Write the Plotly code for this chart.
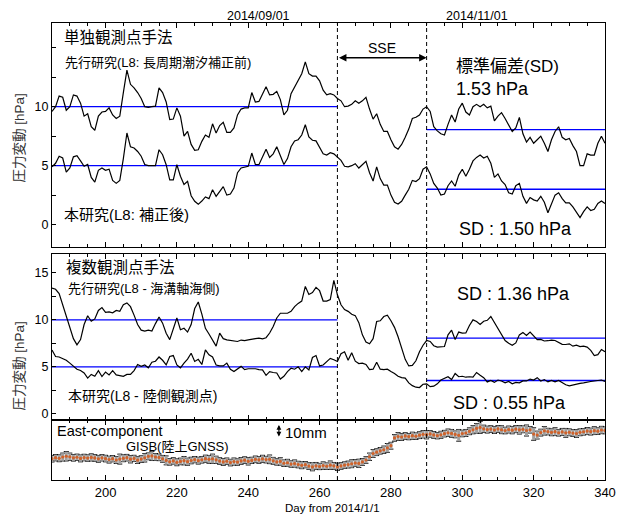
import plotly.graph_objects as go

# ---------------- data ----------------
days = list(range(185, 341))

top_prev = [9.6, 10.0, 10.9, 10.8, 9.7, 10.0, 11.0, 10.9, 10.3, 9.2,
            9.4, 8.3, 8.0, 9.2, 9.55, 9.6, 9.9, 9.3, 9.0, 9.2,
            11.2, 13.1, 11.9, 11.6, 11.2, 10.7, 10.0, 9.95, 10.0, 10.05,
            11.6, 11.2, 10.4, 8.9, 8.95, 9.9, 9.2, 7.5, 7.9, 6.8,
            6.3, 6.35, 7.06, 7.6, 7.4, 8.55, 7.76, 8.4, 8.67, 7.82,
            7.82, 8.2, 9.3, 9.8, 9.9, 9.9, 11.2, 10.4, 10.45, 11.1,
            11.7, 11.0, 11.05, 11.3, 10.6, 9.3, 9.7, 11.1, 11.7, 12.3,
            12.8, 13.8, 12.8, 12.6, 12.6, 12.2, 11.4, 11.0, 11.1, 11.0,
            10.7, 10.5, 10.0, 10.05, 10.2, 10.5, 10.3, 10.5, 10.8, 9.8,
            8.95, 9.4, 8.5, 7.9, 7.9, 7.2, 6.6, 6.4, 6.8, 7.4,
            8.1, 9.0, 9.1, 9.3, 9.8, 10.0, 9.6, 8.3, 7.95, 7.7,
            7.6, 8.5, 9.3, 8.7, 9.8, 10.3, 9.55, 9.3, 10.0, 10.2,
            10.0, 10.2, 9.9, 10.05, 8.8, 9.2, 9.5, 9.0, 8.5, 7.9,
            8.2, 9.1, 7.7, 7.0, 7.4, 6.9, 7.2, 7.5, 6.9, 6.2,
            7.2, 7.9, 8.3, 7.4, 7.2, 7.3, 6.7, 6.2, 5.0, 5.0,
            6.0, 5.9, 5.9, 6.9, 7.5, 6.9]

top_this = [4.9, 5.2, 5.8, 5.65, 4.45, 4.8, 5.75, 5.85, 5.4, 4.95,
            5.1, 4.0, 3.6, 4.6, 4.8, 4.6, 4.7, 3.75, 3.5, 3.75,
            5.6, 7.77, 6.6, 6.5, 6.2, 5.8, 5.1, 5.0, 5.0, 5.0,
            6.35, 5.93, 5.08, 3.8, 3.8, 5.08, 4.1, 3.4, 3.67, 2.45,
            1.98, 1.72, 2.0, 2.35, 2.2, 2.95, 2.4, 2.83, 3.22, 2.5,
            2.6, 3.1, 4.4, 4.8, 4.9, 4.94, 6.07, 5.1, 5.08, 5.7,
            6.4, 5.7, 6.0, 6.6, 5.85, 5.1, 5.6, 6.6, 7.1, 7.2,
            7.6, 8.47, 7.43, 7.15, 7.1, 6.6, 6.0, 5.9, 6.1, 6.0,
            5.75, 5.45, 4.95, 4.9, 5.0, 5.17, 4.8, 5.1, 5.37, 4.4,
            3.7, 4.9, 3.9, 3.35, 3.35, 2.5, 1.9, 1.75, 1.98, 2.5,
            3.0, 3.75, 3.65, 3.9, 4.7, 4.9, 4.3, 3.5, 3.1, 2.5,
            2.6, 3.3, 3.7, 3.25, 4.2, 4.7, 4.1, 4.7, 5.4, 5.7,
            5.9, 5.65, 5.8, 5.2, 4.0, 4.3, 3.7, 3.4, 2.7, 2.6,
            3.3, 3.5, 2.4, 1.8, 2.3, 2.1, 2.0, 2.4, 1.9, 1.0,
            1.7, 2.5, 2.7, 2.2, 1.84, 1.84, 1.5, 1.1, 0.6, 1.1,
            1.5, 1.2, 1.3, 1.8, 2.0, 1.8]

mid_prev = [13.37, 13.25, 12.8, 11.6, 10.3, 9.2, 8.0, 7.35, 7.9, 9.5,
            10.43, 9.85, 10.1, 11.0, 11.3, 10.8, 10.85, 10.75, 11.0, 10.9,
            11.6, 11.8, 11.4, 10.5, 9.5, 8.9, 8.8, 8.9, 8.8, 9.6,
            10.3, 9.65, 8.58, 7.9, 9.0, 10.2, 8.95, 9.1, 8.7, 9.5,
            11.2, 11.9, 10.6, 9.1, 8.5, 7.9, 7.2, 8.58, 8.0, 7.87,
            7.8, 7.75, 7.7, 7.85, 7.8, 7.87, 7.9, 8.0, 8.05, 7.98,
            8.1, 8.6, 9.3, 10.2, 10.7, 10.7, 10.7, 10.9, 11.4, 11.75,
            12.0, 13.55, 12.7, 12.9, 13.45, 13.1, 12.0, 12.0, 12.15, 14.19,
            12.66, 11.6, 11.1, 10.9, 10.6, 10.45, 9.7, 8.4, 7.65, 7.45,
            8.0, 9.82, 9.9, 10.35, 10.5, 9.9, 9.2, 8.2, 6.9, 5.8,
            5.1, 5.15, 5.65, 6.6, 7.3, 7.8, 7.7, 7.25, 7.1, 7.13,
            7.16, 8.4, 8.9, 7.9, 8.7, 8.58, 8.6, 9.4, 10.0, 9.82,
            9.5, 9.85, 9.95, 10.35, 9.7, 9.11, 8.5, 7.8, 7.52, 7.3,
            7.55, 8.4, 8.65, 8.35, 8.7, 8.3, 7.9, 7.92, 7.75, 7.78,
            7.85, 7.8, 7.6, 7.4, 7.38, 7.45, 7.2, 7.3, 7.15, 7.2,
            7.1, 6.75, 6.2, 6.3, 6.85, 6.6]

mid_this = [6.8, 6.1, 6.05, 5.9, 5.7, 5.4, 5.05, 4.75, 4.62, 4.35,
            3.8, 4.2, 4.0, 4.6, 3.97, 4.45, 4.15, 4.6, 4.15, 4.1,
            4.0, 4.2, 4.2, 4.6, 5.25, 5.05, 5.2, 4.9, 5.5, 5.6,
            6.05, 5.7, 5.21, 6.1, 6.2, 5.2, 4.9, 5.4, 5.82, 6.45,
            5.57, 5.8, 5.25, 6.8, 6.28, 6.05, 5.2, 5.1, 5.1, 5.4,
            4.75, 4.5, 4.8, 5.05, 4.7, 4.8, 4.8, 4.8, 4.7, 4.68,
            4.1, 4.5, 4.4, 4.35, 3.7, 4.0, 4.5, 4.85, 4.75, 5.0,
            4.5, 5.0, 4.68, 6.0, 6.2, 5.1, 5.2, 5.6, 5.9, 5.75,
            5.57, 6.4, 6.6, 5.7, 6.5, 5.6, 5.35, 5.4, 5.25, 4.7,
            4.75, 5.5, 4.75, 4.7, 4.75, 4.5, 4.3, 4.0, 3.85, 3.8,
            3.3, 3.0, 2.84, 2.8, 3.15, 3.2, 2.9, 2.95, 3.2, 3.6,
            3.75, 3.95, 3.65, 4.3, 3.95, 4.0, 3.9, 3.95, 3.9, 4.4,
            4.1, 3.85, 3.4, 3.55, 3.35, 3.6, 3.5, 3.3, 3.45, 3.2,
            3.35, 3.3, 3.5, 3.5, 3.7, 3.6, 3.85, 3.5, 3.65, 3.4,
            3.55, 3.4, 3.55, 3.3, 3.1, 2.98, 3.08, 3.2, 3.25, 3.3,
            3.4, 3.44, 3.5, 3.55, 3.6, 3.45]

gnss_east = [-0.5, 0.3, -0.2, 0.8, 1.4, 1.0, 0.2, 0.6, -0.3, 0.4,
             0.0, 0.5, 0.1, -0.6, 0.2, -0.4, -1.2, -0.5, -1.5, -0.8,
             -0.2, 0.3, -0.9, -0.3, -1.6, -0.8, 0.2, 1.3, 1.6, 0.8,
             0.5, -0.6, -1.8, -2.9, -2.2, -3.3, -2.6, -2.0, -2.8, -1.9,
             -1.2, -2.0, -1.3, -0.5, -1.0, -0.6, -1.4, -2.3, -3.0, -2.4,
             -3.5, -2.7, -3.1, -2.2, -1.6, -2.5, -1.8, -1.0, -1.4, -0.6,
             -1.2, -1.0, -2.1, -3.0, -2.6, -4.0, -3.6, -4.6, -4.2, -5.0,
             -5.6, -5.1, -6.2, -6.8, -6.0, -6.5, -5.8, -6.3, -5.5, -6.0,
             -6.8, -6.1, -5.4, -5.0, -4.4, -3.8, -4.1, -3.0, -1.5, 1.0,
             3.5, 4.5, 5.6, 6.4, 7.8, 9.5, 15.5, 16.6, 16.2, 17.0,
             16.5, 17.2, 16.8, 17.6, 18.3, 18.0, 18.6, 17.8, 17.2, 17.9,
             18.8, 19.5, 19.0, 18.2, 17.5, 18.9, 19.3, 20.6, 21.8, 22.9,
             23.6, 22.5, 21.9, 22.3, 21.6, 22.4, 21.8, 21.2, 22.0, 21.5,
             22.3, 21.7, 22.1, 21.2, 21.8, 18.5, 17.7, 19.6, 21.0, 20.4,
             19.8, 20.3, 19.5, 20.1, 19.4, 19.8, 19.25, 18.9, 19.8, 20.25,
             20.8, 20.4, 21.1, 20.7, 21.6, 21.3]

gnss_err = [2.5, 2.4, 2.6, 3.0, 3.6, 2.8, 2.5, 2.4, 2.6, 2.5,
            2.4, 2.7, 2.5, 2.6, 2.4, 2.5, 2.6, 2.4, 2.7, 3.8,
            2.6, 2.5, 2.8, 2.4, 2.6, 2.5, 3.2, 2.6, 3.5, 2.7,
            2.5, 2.6, 3.4, 2.5, 2.4, 2.6, 2.5, 3.2, 2.7, 2.5,
            2.4, 2.6, 2.5, 2.7, 3.0, 3.6, 2.8, 2.5, 2.6, 2.4,
            2.5, 2.7, 2.4, 2.6, 2.5, 2.8, 2.4, 2.5, 2.6, 2.7,
            2.5, 3.3, 2.6, 2.4, 2.8, 2.5, 2.6, 2.4, 2.7, 2.5,
            2.6, 2.4, 2.5, 3.0, 2.6, 2.4, 2.8, 2.5, 3.2, 2.6,
            2.7, 2.5, 2.4, 2.6, 3.0, 2.5, 3.2, 2.6, 2.5, 2.8,
            3.0, 2.6, 2.5, 2.8, 3.4, 2.6, 2.5, 3.0, 2.6, 2.5,
            2.4, 2.7, 2.5, 2.6, 2.8, 3.2, 2.5, 2.6, 2.4, 2.7,
            2.5, 2.8, 3.0, 2.6, 4.5, 2.5, 2.7, 2.6, 3.1, 3.6,
            4.6, 2.8, 2.6, 2.5, 2.7, 2.6, 3.0, 2.5, 2.6, 2.8,
            2.7, 3.2, 2.6, 4.2, 2.5, 4.8, 3.0, 2.6, 3.2, 2.5,
            2.6, 3.0, 2.5, 2.7, 3.4, 2.6, 2.5, 3.0, 2.6, 2.5,
            2.7, 2.6, 3.0, 2.5, 2.8, 2.6]

# mean levels (blue lines): before SSE / after SSE
period_before = [185, 265]
period_after = [290, 340]
top_prev_mean = [10.0, 8.05]
top_this_mean = [5.0, 3.0]
mid_prev_mean = [10.0, 8.05]
mid_this_mean = [5.0, 3.55]
sse_start, sse_end = 265, 290
date_ticks = [243, 304]
date_labels = ["2014/09/01", "2014/11/01"]
xtick_vals = [200, 220, 240, 260, 280, 300, 320, 340]

# ---------------- figure ----------------
FONT = "Liberation Sans, Arial, Noto Sans CJK JP, sans-serif"
BLACK = "black"
BLUE = "#0000ff"

fig = go.Figure()

def mean_lines(means, xa, ya):
    for per, m in zip([period_before, period_after], means):
        fig.add_trace(go.Scatter(x=per, y=[m, m], mode="lines",
                                 line=dict(color=BLUE, width=1.3),
                                 xaxis=xa, yaxis=ya, hoverinfo="skip"))

# top panel
mean_lines(top_prev_mean, "x3", "y3")
mean_lines(top_this_mean, "x3", "y3")
for ser in (top_prev, top_this):
    fig.add_trace(go.Scatter(x=days, y=ser, mode="lines",
                             line=dict(color=BLACK, width=1.2),
                             xaxis="x3", yaxis="y3"))
# middle panel
mean_lines(mid_prev_mean, "x2", "y2")
mean_lines(mid_this_mean, "x2", "y2")
for ser in (mid_prev, mid_this):
    fig.add_trace(go.Scatter(x=days, y=ser, mode="lines",
                             line=dict(color=BLACK, width=1.2),
                             xaxis="x2", yaxis="y2"))
# bottom panel GNSS
fig.add_trace(go.Scatter(x=days, y=gnss_east, mode="markers",
                         marker=dict(size=1, color="rgba(0,0,0,0)"),
                         error_y=dict(type="data", array=gnss_err, color="black",
                                      thickness=1, width=2.5),
                         xaxis="x", yaxis="y"))
fig.add_trace(go.Scatter(x=days, y=gnss_east, mode="markers",
                         marker=dict(size=1, color="rgba(0,0,0,0)"),
                         error_y=dict(type="data", array=gnss_err, color="#a0a0a0",
                                      thickness=3, width=0),
                         xaxis="x", yaxis="y"))
fig.add_trace(go.Scatter(x=days, y=gnss_east, mode="markers",
                         marker=dict(size=3.2, color="#d0622a"),
                         xaxis="x", yaxis="y"))

# geometry (page pixels); body margin is removed by post_script below
W, H = 628, 519
L, R, T, B = 52, 13, 23, 39
PW, PH = W - L - R, H - T - B

def px(xp, yp):
    # page pixel -> paper coordinates
    return (xp - L) / PW, (H - B - yp) / PH

d_bot = [0, px(0, 420)[1]]
d_mid = [px(0, 420)[1], px(0, 254)[1]]
d_top = [px(0, 247)[1], 1]

xcommon = dict(range=[185, 340], showline=True, linecolor=BLACK, linewidth=1.2,
               mirror="ticks", ticks="inside", ticklen=5, tickcolor=BLACK,
               tickvals=xtick_vals, showgrid=False, zeroline=False,
               minor=dict(ticks="inside", ticklen=3, dtick=5, tick0=0,
                          tickcolor=BLACK, showgrid=False))
ycommon = dict(showline=True, linecolor=BLACK, linewidth=1.2, mirror=True,
               showgrid=False, zeroline=False)

fig.update_layout(
    width=W, height=H,
    margin=dict(l=L, r=R, t=T, b=B),
    paper_bgcolor="white", plot_bgcolor="white",
    showlegend=False,
    font=dict(family=FONT, size=12, color=BLACK),
    xaxis=dict(**xcommon, anchor="y", tickfont=dict(size=13)),
    xaxis2=dict(**xcommon, anchor="y2", matches="x", showticklabels=False),
    xaxis3=dict(**xcommon, anchor="y3", matches="x", showticklabels=False),
    yaxis=dict(**ycommon, domain=d_bot, range=[-16.9, 29.3],
               showticklabels=False, ticks=""),
    yaxis2=dict(**ycommon, domain=d_mid, range=[-0.65, 17],
                tickvals=[0, 5, 10, 15], ticks="inside", ticklen=4,
                tickcolor=BLACK, tickfont=dict(size=12.5),
                minor=dict(ticks="inside", ticklen=4, dtick=2.5, tick0=0,
                           tickcolor=BLACK, showgrid=False)),
    yaxis3=dict(**ycommon, domain=d_top, range=[-1.9, 17.1],
                tickvals=[0, 5, 10, 15], ticktext=["0", "5", "10", ""],
                ticks="inside", ticklen=4, tickcolor=BLACK,
                tickfont=dict(size=12.5),
                minor=dict(ticks="inside", ticklen=4, dtick=2.5, tick0=0,
                           tickcolor=BLACK, showgrid=False)),
)

# dashed SSE lines through all panels
for xv in (sse_start, sse_end):
    fig.add_shape(type="line", x0=xv, x1=xv, xref="x", yref="paper",
                  y0=0, y1=1, line=dict(color=BLACK, width=1, dash="4px,3px"))

ann = []
def txt(text, xp, yp, size, xanchor="left", color=BLACK, angle=0):
    x, y = px(xp, yp)
    ann.append(dict(text=text, x=x, y=y, xref="paper", yref="paper",
                    xanchor=xanchor, yanchor="middle", showarrow=False,
                    textangle=angle, font=dict(size=size, color=color)))

txt("単独観測点手法", 62, 38, 15.5)
txt("先行研究(L8: 長周期潮汐補正前)", 63, 62, 13)
txt("本研究(L8: 補正後)", 62, 214, 15)
txt("標準偏差(SD)", 461, 66, 17)
txt("1.53 hPa", 461, 89, 18)
txt("SD : 1.50 hPa", 464, 229, 18)
txt("SSE", 388, 48, 14, xanchor="center")
txt("複数観測点手法", 64, 267, 15.5)
txt("先行研究(L8 - 海溝軸海側)", 66, 288, 13)
txt("本研究(L8 - 陸側観測点)", 66, 396, 14)
txt("SD : 1.36 hPa", 462, 294, 18)
txt("SD : 0.55 hPa", 458, 403, 18)
txt("East-component", 55, 431, 14.5)
txt("GISB(陸上GNSS)", 125, 446, 13)
txt("10mm", 287, 432, 15)
txt("Day from 2014/1/1", 338, 508, 11.5, xanchor="center")
txt("圧力変動 [hPa]", 18, 138, 13.5, xanchor="center", color="#333333", angle=-90)
txt("圧力変動 [hPa]", 18, 366, 13.5, xanchor="center", color="#333333", angle=-90)

for dv, lab in zip(date_ticks, date_labels):
    ann.append(dict(text=lab, x=dv, y=px(0, 16)[1], xref="x3", yref="paper",
                    xanchor="center", yanchor="middle", showarrow=False,
                    font=dict(size=12.5)))

# SSE double arrow
ann.append(dict(text="", x=sse_end, y=14.15, ax=sse_start, ay=14.15,
                xref="x3", yref="y3", axref="x3", ayref="y3",
                showarrow=True, arrowside="end+start", arrowhead=2,
                startarrowhead=2, arrowsize=1, startarrowsize=1,
                arrowwidth=1.5, arrowcolor=BLACK))
# 10mm scale arrow
ann.append(dict(text="", x=248.6, y=25.4, ax=248.6, ay=15.4,
                xref="x", yref="y", axref="x", ayref="y",
                showarrow=True, arrowside="end+start", arrowhead=2,
                startarrowhead=2, arrowsize=0.8, startarrowsize=0.8,
                arrowwidth=1.2, arrowcolor=BLACK))

fig.update_layout(annotations=ann)
fig.write_html("out.html",
               config={"displayModeBar": False},
               post_script="document.body.style.margin='0';"
                           "document.body.style.overflow='hidden';")
